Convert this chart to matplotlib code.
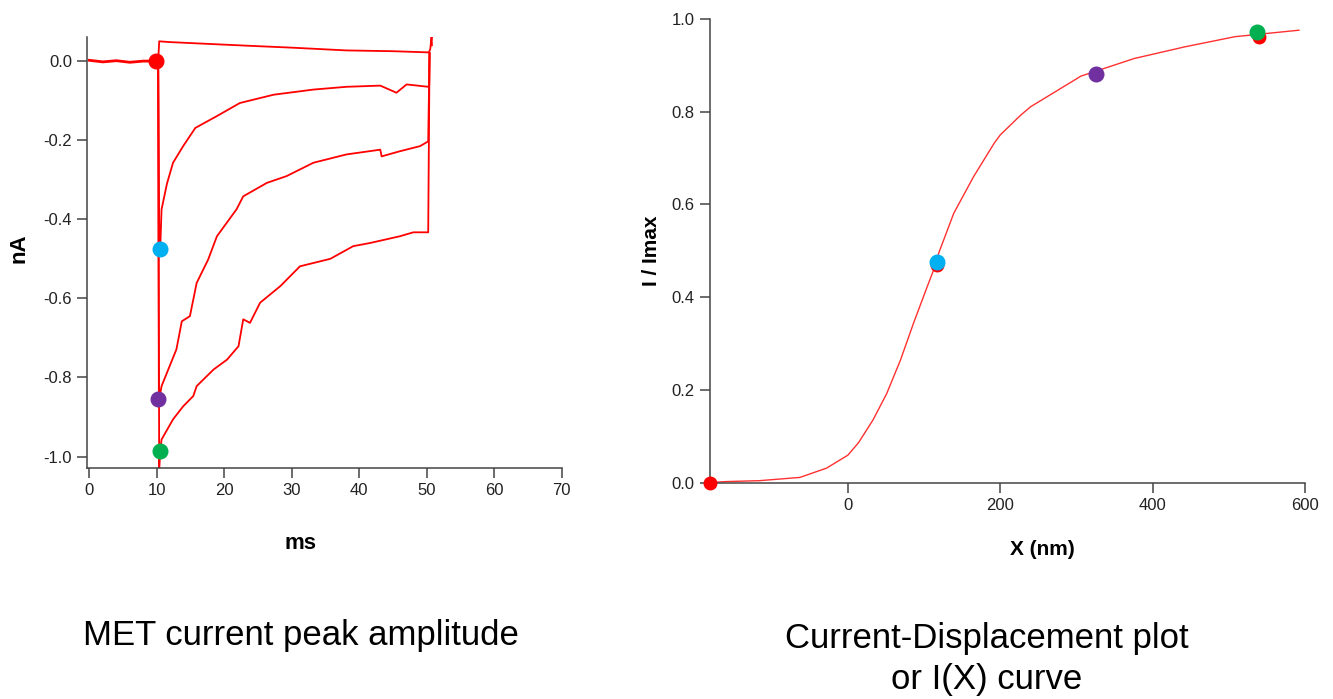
import matplotlib.pyplot as plt

plt.rcParams['font.family'] = ['Liberation Sans', 'DejaVu Sans']
plt.rcParams['axes.unicode_minus'] = False

# --- left panel: MET current traces (ms, nA) ---
base_t = [0, 2, 4, 6, 8, 10.2]
base_i = [0.002, -0.002, 0.001, -0.003, 0.0, 0.0]

t1 = [10.2, 10.35, 12, 17, 23.3, 30, 38.1, 45, 50.3, 50.5, 50.7, 50.75]
i1 = [0.0, 0.05, 0.048, 0.044, 0.039, 0.034, 0.027, 0.025, 0.022, 0.03, 0.062, 0.04]

t2 = [10.2, 10.35, 10.5, 10.7, 11.5, 12.4, 13.9, 15.7, 18.9, 22.3, 27.3, 33.2,
      38.1, 43.1, 45.5, 47, 50.2, 50.35, 50.4]
i2 = [0.0, -0.43, -0.476, -0.375, -0.31, -0.257, -0.215, -0.169, -0.139, -0.106,
      -0.085, -0.072, -0.065, -0.062, -0.080, -0.059, -0.065, -0.06, 0.02]

t3 = [10.2, 10.3, 10.7, 12.9, 13.7, 14.9, 15.9, 17.6, 18.9, 21.8, 22.8, 26.3,
      29.2, 33.2, 38.1, 43.1, 43.3, 46, 49, 50.2, 50.4]
i3 = [0.0, -0.86, -0.822, -0.729, -0.658, -0.645, -0.561, -0.502, -0.443, -0.375,
      -0.342, -0.308, -0.291, -0.257, -0.236, -0.224, -0.241, -0.228, -0.215,
      -0.203, 0.02]

t4 = [10.2, 10.35, 10.5, 10.7, 12.4, 13.9, 15.4, 15.9, 18.4, 20.4, 22.1, 22.8,
      23.8, 25.3, 28.3, 31.2, 35.7, 39.1, 41.6, 46, 48, 50.2, 50.4]
i4 = [0.0, -1.03, -0.985, -0.957, -0.906, -0.873, -0.847, -0.822, -0.780, -0.755,
      -0.721, -0.653, -0.662, -0.611, -0.569, -0.519, -0.500, -0.468, -0.460,
      -0.443, -0.433, -0.433, 0.02]

peak_t = [9.9, 10.5, 10.1, 10.4]
peak_i = [0.0, -0.476, -0.854, -0.985]
peak_colors = ['#ff0000', '#00b0f0', '#7030a0', '#00b050']

# --- right panel: I(X) curve ---
curve_x = [-181, -160, -116, -63, -28, 0, 14, 33, 51, 69, 86, 104, 115, 119, 139,
           165, 192, 200, 227, 240, 306, 376, 442, 508, 592]
curve_y = [0.0, 0.002, 0.004, 0.011, 0.031, 0.059, 0.086, 0.135, 0.192, 0.264,
           0.343, 0.422, 0.469, 0.494, 0.581, 0.660, 0.732, 0.75, 0.793, 0.811,
           0.877, 0.915, 0.940, 0.962, 0.976]

red_x = [-181, 117, 326, 539]
red_y = [0.0, 0.469, 0.881, 0.962]
pt_x = [117, 326, 537]
pt_y = [0.476, 0.881, 0.972]
pt_colors = ['#00b0f0', '#7030a0', '#00b050']

fig = plt.figure(figsize=(13.33, 6.99), dpi=100)

def style(ax):
    for s in ['top', 'right']:
        ax.spines[s].set_visible(False)
    for s in ['left', 'bottom']:
        ax.spines[s].set_color('#444444')
        ax.spines[s].set_linewidth(1.1)
    ax.tick_params(direction='out', length=7, width=1.1, color='#444444',
                   labelsize=12, labelcolor='#222222', pad=4)

ax1 = fig.add_axes([0.0655, 0.3305, 0.356, 0.6166])
style(ax1)
ax1.plot(base_t, base_i, color='red', lw=2)
for t, i in [(t1, i1), (t2, i2), (t3, i3), (t4, i4)]:
    ax1.plot(t, i, color='red', lw=1.3)
for x, y, c in zip(peak_t, peak_i, peak_colors):
    ax1.plot(x, y, 'o', color=c, ms=10.5, mec=c, zorder=5)
ax1.set_xlim(-0.3, 70)
ax1.set_ylim(-1.029, 0.061)
ax1.set_xticks(range(0, 71, 10))
ax1.set_yticks([-1.0, -0.8, -0.6, -0.4, -0.2, 0.0])
ax1.set_yticklabels(['-1.0', '-0.8', '-0.6', '-0.4', '-0.2', '0.0'])
ax1.set_xlabel('ms', fontsize=16, fontweight='bold')
ax1.xaxis.set_label_coords(0.45, -0.152)
ax1.set_ylabel('nA', fontsize=16, fontweight='bold')
ax1.yaxis.set_label_coords(-0.122, 0.51)

ax2 = fig.add_axes([0.5326, 0.3097, 0.4464, 0.663])
style(ax2)
ax2.plot(curve_x, curve_y, color='#ff3030', lw=1.0)
ax2.plot(red_x, red_y, 'o', color='#ff0000', ms=9, clip_on=False, zorder=4)
for x, y, c in zip(pt_x, pt_y, pt_colors):
    ax2.plot(x, y, 'o', color=c, ms=10.5, zorder=5)
ax2.set_xlim(-181, 600)
ax2.set_ylim(0, 1.0)
ax2.set_xticks([0, 200, 400, 600])
ax2.set_yticks([0.0, 0.2, 0.4, 0.6, 0.8, 1.0])
ax2.set_yticklabels(['0.0', '0.2', '0.4', '0.6', '0.8', '1.0'])
ax2.set_xlabel('X (nm)', fontsize=15, fontweight='bold')
ax2.xaxis.set_label_coords(0.558, -0.124)
ax2.set_ylabel('I / Imax', fontsize=15, fontweight='bold')
ax2.yaxis.set_label_coords(-0.083, 0.50)

fig.text(301 / 1333, 1 - 636 / 699, 'MET current peak amplitude', fontsize=25,
         ha='center', va='center', color='black')
fig.text(987 / 1333, 1 - 659 / 699, 'Current-Displacement plot\nor I(X) curve',
         fontsize=25, ha='center', va='center', color='black', linespacing=1.28)

fig.savefig('out.png', dpi=100)
